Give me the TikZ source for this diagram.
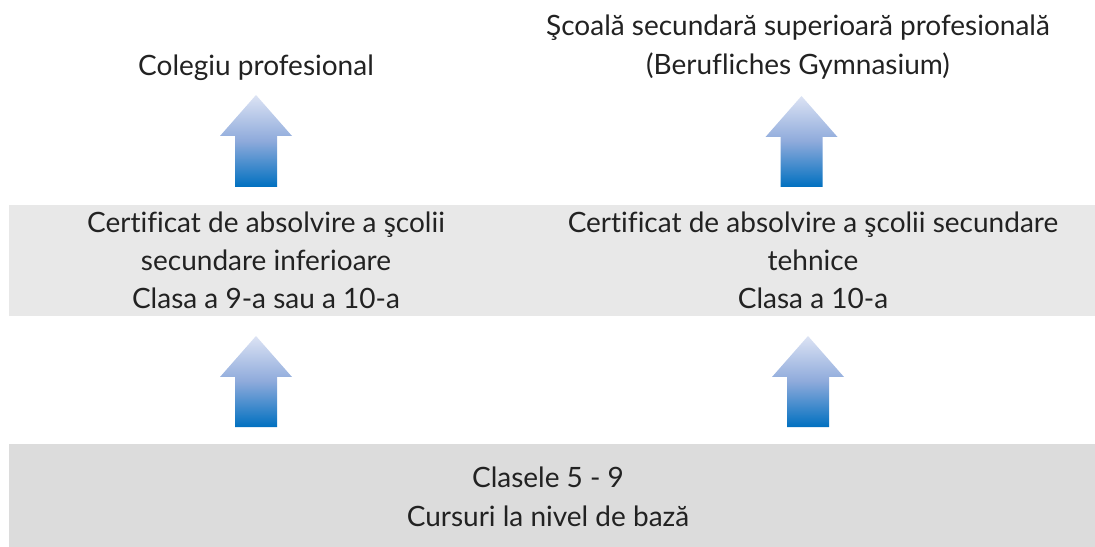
\documentclass[tikz,border=0pt]{standalone}
\usepackage{fontspec}
\setmainfont[Ligatures={NoCommon}]{Lato}
\definecolor{textc}{HTML}{222222}
\definecolor{bandmid}{HTML}{E8E8E8}
\definecolor{bandbot}{HTML}{DCDCDC}
\definecolor{arrtop}{HTML}{DCE3F4}
\definecolor{arrmid}{HTML}{8EAADB}
\definecolor{arrbot}{HTML}{0070C0}
\begin{document}
\begin{tikzpicture}[x=1bp,y=-1bp,
  txt/.style={anchor=base, inner sep=0pt, text=textc, font=\fontsize{28bp}{33bp}\selectfont},
  band/.style={fill=#1, draw=none, inner sep=0pt, anchor=north west},
  uparrow/.style={top color=arrtop, bottom color=arrbot, middle color=arrmid, draw=none}]
\useasboundingbox (0,0) rectangle (1095,547);
% bands
\node[band=bandmid, minimum width=1086bp, minimum height=111bp] (midband) at (9,205) {};
\node[band=bandbot, minimum width=1086bp, minimum height=103bp] (botband) at (9,444) {};
% top texts
\node[txt] (tl) at (256,76) {Colegiu profesional};
\node[txt] (tr1) at (798,36) {Şcoală secundară superioară profesională};
\node[txt] (tr2) at (798,75) {(Berufliches Gymnasium)};
% middle texts
\node[txt] (ml1) at (266,233) {Certificat de absolvire a şcolii};
\node[txt] (ml2) at (266,271) {secundare inferioare};
\node[txt] (ml3) at (266,309) {Clasa a 9-a sau a 10-a};
\node[txt] (mr1) at (813,233) {Certificat de absolvire a şcolii secundare};
\node[txt] (mr2) at (813,271) {tehnice};
\node[txt] (mr3) at (813,309) {Clasa a 10-a};
% bottom texts
\node[txt] (b1) at (548,487) {Clasele 5 - 9};
\node[txt] (b2) at (548,526) {Cursuri la nivel de bază};
% arrows
\shade[uparrow] (256,95) -- (292,136) -- (277,136) -- (277,187) -- (235,187) -- (235,136) -- (220,136) -- cycle;
\shade[uparrow] (801.5,96) -- (837.5,137) -- (822.5,137) -- (822.5,187) -- (780.5,187) -- (780.5,137) -- (765.5,137) -- cycle;
\shade[uparrow] (256,336) -- (292,377) -- (277,377) -- (277,427) -- (235,427) -- (235,377) -- (220,377) -- cycle;
\shade[uparrow] (808,336) -- (844,377) -- (829,377) -- (829,427) -- (787,427) -- (787,377) -- (772,377) -- cycle;
\end{tikzpicture}
\end{document}
